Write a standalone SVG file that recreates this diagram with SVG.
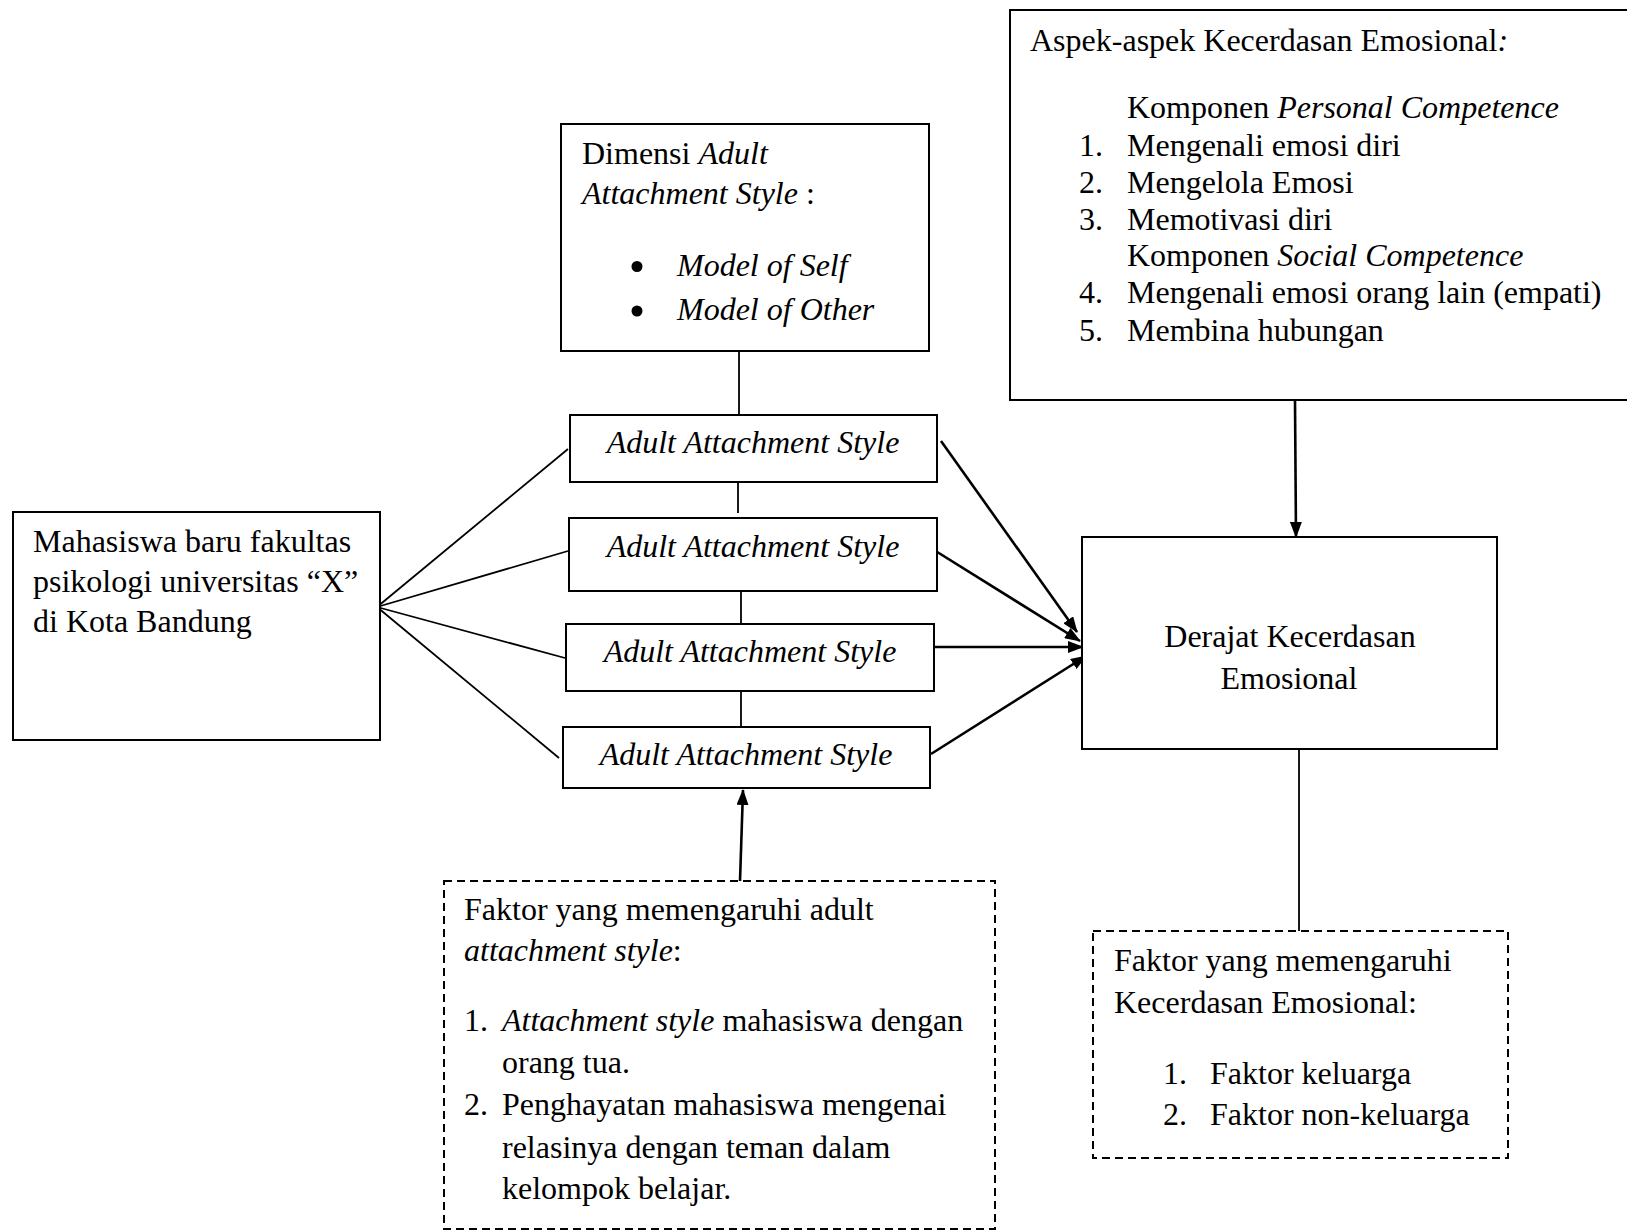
<svg xmlns="http://www.w3.org/2000/svg" width="1627" height="1232" viewBox="0 0 1627 1232">
<style>
text{font-family:"Liberation Serif","Times New Roman",serif;font-size:32px;fill:#000}
.i{font-style:italic}
.box{fill:#fff;stroke:#000;stroke-width:2}
.dash{fill:#fff;stroke:#000;stroke-width:2;stroke-dasharray:8 5}
.ln{stroke:#000;stroke-width:1.8;fill:none}
.ar{stroke:#000;stroke-width:2.6;fill:none;marker-end:url(#ah)}
.c{text-anchor:middle}
.bul{fill:#000}
</style>
<defs>
<marker id="ah" viewBox="0 0 16 12" refX="15" refY="6" markerWidth="16" markerHeight="12" markerUnits="userSpaceOnUse" orient="auto">
<path d="M0,0 L16,6 L0,12 z" fill="#000"/>
</marker>
</defs>
<g id="connectors">
<line class="ln" x1="739" y1="351" x2="739" y2="415"/>
<line class="ln" x1="738" y1="482" x2="738" y2="513"/>
<line class="ln" x1="741" y1="591" x2="741" y2="623"/>
<line class="ln" x1="741" y1="691" x2="741" y2="726"/>
<line class="ln" x1="377" y1="607" x2="568" y2="449"/>
<line class="ln" x1="377" y1="607" x2="568" y2="551"/>
<line class="ln" x1="377" y1="607" x2="565" y2="658"/>
<line class="ln" x1="377" y1="607" x2="559" y2="758"/>
<line class="ar" x1="941" y1="441" x2="1077" y2="632"/>
<line class="ar" x1="934" y1="550" x2="1080" y2="641"/>
<line class="ar" x1="934" y1="647" x2="1083" y2="647"/>
<line class="ar" x1="931" y1="754" x2="1086" y2="656"/>
<line class="ar" x1="1295" y1="401" x2="1296" y2="537"/>
<line class="ln" x1="1299" y1="749" x2="1299" y2="931"/>
<line class="ar" x1="740" y1="881" x2="743" y2="790"/>
</g>
<g id="aspek">
<rect class="box" x="1010" y="10" width="640" height="390"/>
<text x="1030" y="51">Aspek-aspek Kecerdasan Emosional<tspan class="i">:</tspan></text>
<text x="1127" y="118">Komponen <tspan class="i">Personal Competence</tspan></text>
<text x="1079" y="156">1.</text><text x="1127" y="156">Mengenali emosi diri</text>
<text x="1079" y="193">2.</text><text x="1127" y="193">Mengelola Emosi</text>
<text x="1079" y="230">3.</text><text x="1127" y="230">Memotivasi diri</text>
<text x="1127" y="266">Komponen <tspan class="i">Social Competence</tspan></text>
<text x="1079" y="303">4.</text><text x="1127" y="303">Mengenali emosi orang lain (empati)</text>
<text x="1079" y="341">5.</text><text x="1127" y="341">Membina hubungan</text>
</g>
<g id="dimensi">
<rect class="box" x="561" y="124" width="368" height="227"/>
<text x="582" y="164">Dimensi <tspan class="i">Adult</tspan></text>
<text x="582" y="204"><tspan class="i">Attachment Style</tspan> :</text>
<circle class="bul" cx="637" cy="266.5" r="5.5"/><text x="677" y="276" class="i">Model of Self</text>
<circle class="bul" cx="637" cy="311" r="5.5"/><text x="677" y="320" class="i">Model of Other</text>
</g>
<g id="mahasiswa">
<rect class="box" x="13" y="512" width="367" height="228"/>
<text x="33" y="552">Mahasiswa baru fakultas</text>
<text x="33" y="592">psikologi universitas “X”</text>
<text x="33" y="632">di Kota Bandung</text>
</g>
<g id="aas1">
<rect class="box" x="570" y="415" width="367" height="67"/>
<text x="753" y="453" class="i c">Adult Attachment Style</text>
</g>
<g id="aas2">
<rect class="box" x="569" y="518" width="368" height="73"/>
<text x="753" y="557" class="i c">Adult Attachment Style</text>
</g>
<g id="aas3">
<rect class="box" x="566" y="624" width="368" height="67"/>
<text x="750" y="662" class="i c">Adult Attachment Style</text>
</g>
<g id="aas4">
<rect class="box" x="563" y="727" width="367" height="61"/>
<text x="746" y="765" class="i c">Adult Attachment Style</text>
</g>
<g id="derajat">
<rect class="box" x="1082" y="537" width="415" height="212"/>
<text x="1290" y="647" class="c">Derajat Kecerdasan</text>
<text x="1289" y="689" class="c">Emosional</text>
</g>
<g id="faktor-aas">
<rect class="dash" x="444" y="881" width="551" height="348"/>
<text x="464" y="920">Faktor yang memengaruhi adult</text>
<text x="464" y="961"><tspan class="i">attachment style</tspan>:</text>
<text x="464" y="1031">1.</text><text x="502" y="1031"><tspan class="i">Attachment style</tspan> mahasiswa dengan</text>
<text x="502" y="1073">orang tua.</text>
<text x="464" y="1115">2.</text><text x="502" y="1115">Penghayatan mahasiswa mengenai</text>
<text x="502" y="1158">relasinya dengan teman dalam</text>
<text x="502" y="1199">kelompok belajar.</text>
</g>
<g id="faktor-ke">
<rect class="dash" x="1093" y="931" width="415" height="227"/>
<text x="1114" y="971">Faktor yang memengaruhi</text>
<text x="1114" y="1013">Kecerdasan Emosional:</text>
<text x="1163" y="1084">1.</text><text x="1210" y="1084">Faktor keluarga</text>
<text x="1163" y="1125">2.</text><text x="1210" y="1125">Faktor non-keluarga</text>
</g>
</svg>
